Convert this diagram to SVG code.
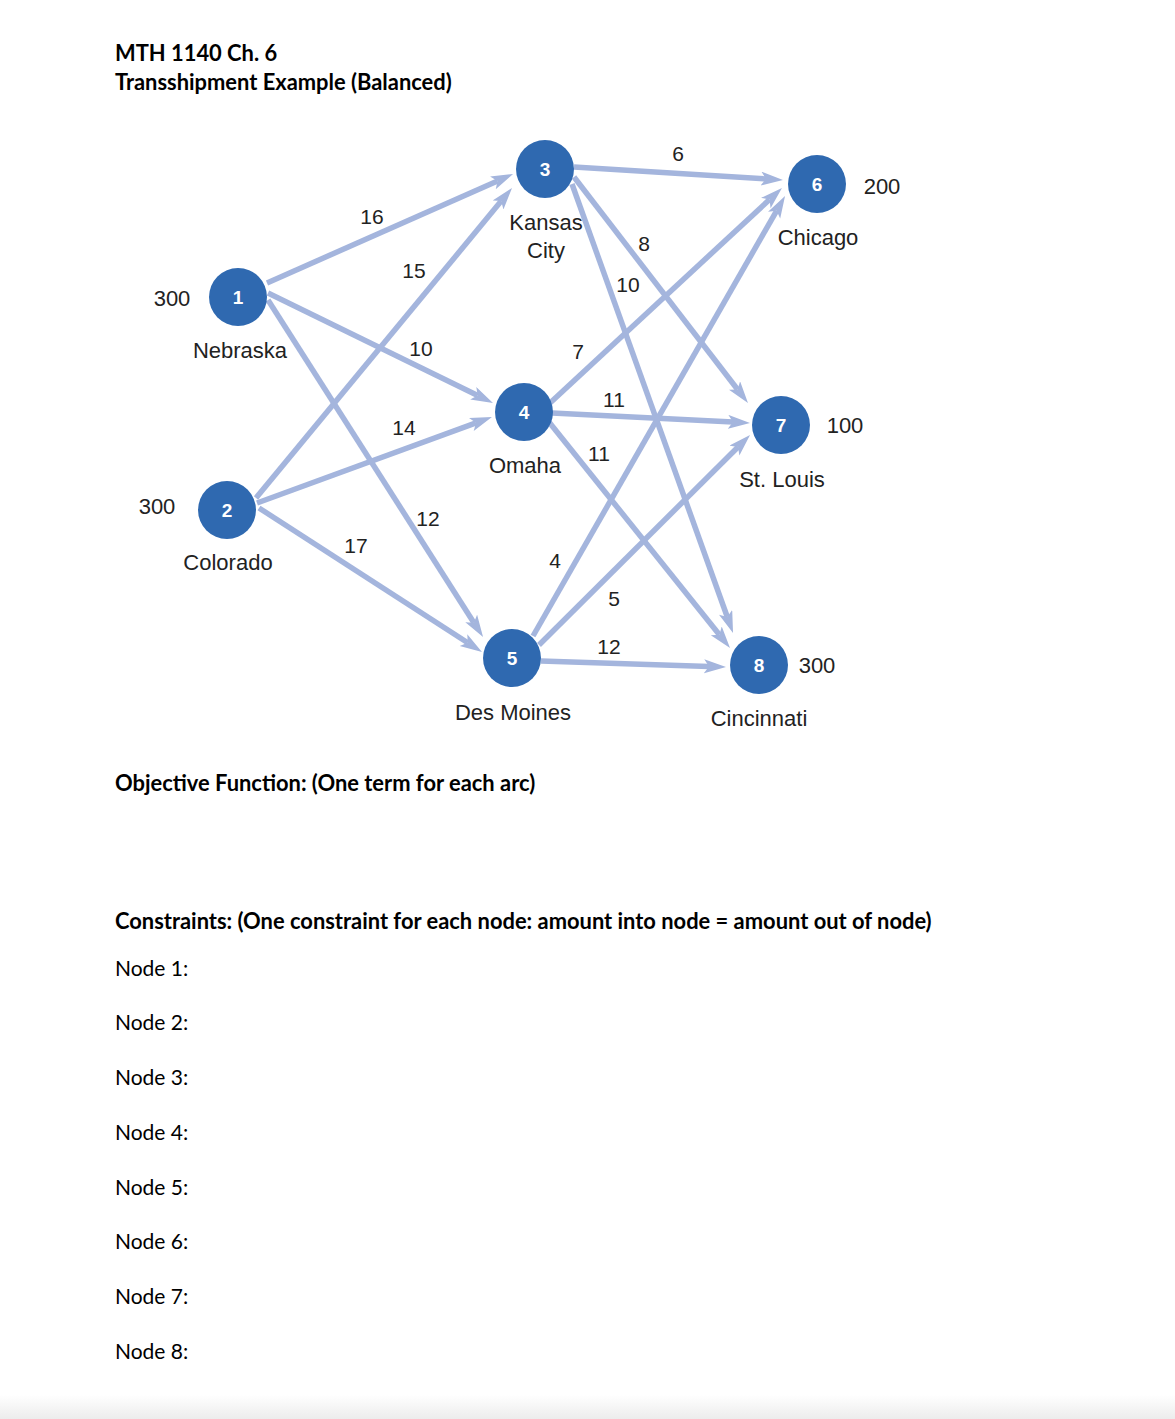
<svg xmlns="http://www.w3.org/2000/svg" width="1175" height="1419" viewBox="0 0 1175 1419">
<defs>
<marker id="ah" markerUnits="userSpaceOnUse" markerWidth="24" markerHeight="16" refX="5" refY="7" orient="auto">
<path d="M0,0 L22,7 L0,14 L5,7 z" fill="#a4b5dd"/>
</marker>
<linearGradient id="bot" x1="0" y1="0" x2="0" y2="1">
<stop offset="0" stop-color="#ffffff"/>
<stop offset="1" stop-color="#ececec"/>
</linearGradient>
</defs>
<style>
.doc{font-family:Lato,"Liberation Sans",sans-serif;font-size:21px;fill:#000}
.b{font-weight:bold;font-size:21.9px}
.edge{stroke:#a4b5dd;stroke-width:5.5;fill:none;marker-end:url(#ah)}
.node circle{fill:#2f69b0}
.num{font-family:"Liberation Sans",Arial,sans-serif;font-weight:bold;font-size:19px;fill:#fff;text-anchor:middle}
.lbl{font-family:"Liberation Sans",Arial,sans-serif;font-size:22px;fill:#222;text-anchor:middle}
.cost{font-family:"Liberation Sans",Arial,sans-serif;font-size:21px;fill:#222;text-anchor:middle}
</style>
<rect width="1175" height="1419" fill="#fff"/>
<rect x="0" y="1395" width="1175" height="24" fill="url(#bot)"/>
<text class="doc b" x="115" y="61">MTH 1140 Ch. 6</text>
<text class="doc b" x="115" y="90">Transshipment Example (Balanced)</text>

<g id="connectors">
<line class="edge" x1="267" y1="283" x2="497.5" y2="180.9"/>
<line class="edge" x1="268" y1="293" x2="477.7" y2="395.5"/>
<line class="edge" x1="268" y1="300" x2="473.9" y2="622.7"/>
<line class="edge" x1="256" y1="498" x2="501.2" y2="201.1"/>
<line class="edge" x1="257" y1="503" x2="476" y2="422.8"/>
<line class="edge" x1="259" y1="508" x2="467.7" y2="642.8"/>
<line class="edge" x1="574" y1="167" x2="766" y2="178.9"/>
<line class="edge" x1="574" y1="177" x2="737.6" y2="389.5"/>
<line class="edge" x1="572" y1="184" x2="727.3" y2="617"/>
<line class="edge" x1="550" y1="403" x2="769.5" y2="199.6"/>
<line class="edge" x1="552" y1="413" x2="733" y2="422.1"/>
<line class="edge" x1="549" y1="422" x2="719.4" y2="634.7"/>
<line class="edge" x1="533" y1="636" x2="776.6" y2="210.8"/>
<line class="edge" x1="539" y1="645" x2="738" y2="447"/>
<line class="edge" x1="541" y1="661" x2="709" y2="666.5"/>
<text class="cost" x="372" y="224">16</text>
<text class="cost" x="414" y="278">15</text>
<text class="cost" x="421" y="356">10</text>
<text class="cost" x="404" y="435">14</text>
<text class="cost" x="428" y="526">12</text>
<text class="cost" x="356" y="553">17</text>
<text class="cost" x="678" y="161">6</text>
<text class="cost" x="644" y="251">8</text>
<text class="cost" x="628" y="292">10</text>
<text class="cost" x="578" y="359">7</text>
<text class="cost" x="614" y="407">11</text>
<text class="cost" x="599" y="461">11</text>
<text class="cost" x="555" y="568">4</text>
<text class="cost" x="614" y="606">5</text>
<text class="cost" x="609" y="654">12</text>
</g>

<g id="node1" class="node"><circle cx="238" cy="297" r="29"/><text class="num" x="238" y="304">1</text><text class="lbl" x="172" y="306">300</text><text class="lbl" x="240" y="358">Nebraska</text></g>
<g id="node2" class="node"><circle cx="227" cy="510" r="29"/><text class="num" x="227" y="517">2</text><text class="lbl" x="157" y="514">300</text><text class="lbl" x="228" y="570">Colorado</text></g>
<g id="node3" class="node"><circle cx="545" cy="169" r="29"/><text class="num" x="545" y="176">3</text><text class="lbl" x="546" y="230">Kansas</text><text class="lbl" x="546" y="258">City</text></g>
<g id="node4" class="node"><circle cx="524" cy="412" r="29"/><text class="num" x="524" y="419">4</text><text class="lbl" x="525" y="473">Omaha</text></g>
<g id="node5" class="node"><circle cx="512" cy="658" r="29"/><text class="num" x="512" y="665">5</text><text class="lbl" x="513" y="720">Des Moines</text></g>
<g id="node6" class="node"><circle cx="817" cy="184" r="29"/><text class="num" x="817" y="191">6</text><text class="lbl" x="882" y="194">200</text><text class="lbl" x="818" y="245">Chicago</text></g>
<g id="node7" class="node"><circle cx="781" cy="425" r="29"/><text class="num" x="781" y="432">7</text><text class="lbl" x="845" y="433">100</text><text class="lbl" x="782" y="487">St. Louis</text></g>
<g id="node8" class="node"><circle cx="759" cy="665" r="29"/><text class="num" x="759" y="672">8</text><text class="lbl" x="817" y="673">300</text><text class="lbl" x="759" y="726">Cincinnati</text></g>

<text class="doc b" x="115" y="791">Objective Function: (One term for each arc)</text>
<text class="doc b" x="115" y="929">Constraints: (One constraint for each node: amount into node = amount out of node)</text>
<text class="doc" x="115" y="976">Node 1:</text>
<text class="doc" x="115" y="1030">Node 2:</text>
<text class="doc" x="115" y="1085">Node 3:</text>
<text class="doc" x="115" y="1140">Node 4:</text>
<text class="doc" x="115" y="1195">Node 5:</text>
<text class="doc" x="115" y="1249">Node 6:</text>
<text class="doc" x="115" y="1304">Node 7:</text>
<text class="doc" x="115" y="1359">Node 8:</text>
</svg>
